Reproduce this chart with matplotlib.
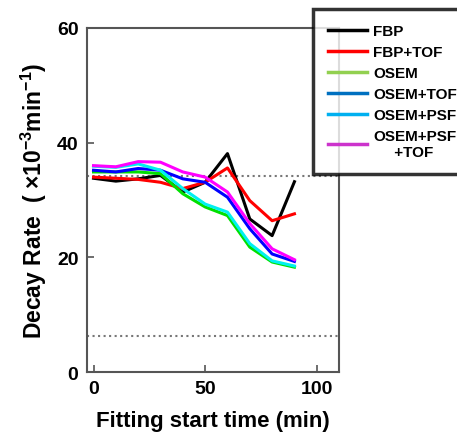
import matplotlib.pyplot as plt
from matplotlib.lines import Line2D

plt.rcParams['font.family'] = ['Liberation Sans', 'DejaVu Sans']
plt.rcParams['font.weight'] = 'bold'
plt.rcParams['mathtext.fontset'] = 'custom'
plt.rcParams['mathtext.rm'] = 'Liberation Sans:bold'
plt.rcParams['mathtext.default'] = 'rm'

start_time = [0, 10, 20, 30, 40, 50, 60, 70, 80, 90]
fbp = [33.8, 33.3, 33.7, 34.3, 31.4, 33.1, 38.1, 26.7, 23.8, 33.2]
fbp_tof = [34.0, 33.8, 33.6, 33.1, 32.0, 33.1, 35.6, 29.9, 26.4, 27.6]
osem = [34.9, 34.9, 34.9, 34.6, 31.1, 28.8, 27.3, 21.8, 19.2, 18.3]
osem_tof = [35.2, 34.9, 35.5, 35.2, 33.7, 33.1, 30.5, 25.0, 20.6, 19.3]
osem_psf = [35.9, 35.7, 36.3, 35.2, 32.0, 29.3, 27.9, 22.4, 19.4, 18.5]
osem_psf_tof = [36.0, 35.8, 36.7, 36.6, 34.9, 34.0, 31.4, 25.9, 21.5, 19.6]
ref_lines = [34.2, 6.3]

labels = ['FBP', 'FBP+TOF', 'OSEM', 'OSEM+TOF', 'OSEM+PSF', 'OSEM+PSF\n     +TOF']
series = [fbp, fbp_tof, osem, osem_tof, osem_psf, osem_psf_tof]
line_colors = ['#000000', '#ff0000', '#00e000', '#0000ff', '#00f0f0', '#ff00ff']
legend_colors = ['#000000', '#ff0000', '#92d050', '#0070c0', '#00b0f0', '#cc33cc']

fig = plt.figure(figsize=(4.57, 4.39), dpi=100)
ax = fig.add_axes([0.19, 0.150, 0.552, 0.784])

for y in ref_lines:
    ax.axhline(y, color='#777777', linestyle=':', linewidth=1.5, zorder=1)

for vals, c in zip(series, line_colors):
    ax.plot(start_time, vals, color=c, linewidth=2.2, zorder=2)

ax.set_xlim(-3, 110)
ax.set_ylim(0, 60)
ax.set_xticks([0, 50, 100])
ax.set_yticks([0, 20, 40, 60])
ax.tick_params(direction='in', length=5, width=1.2, color='#555555',
               labelsize=14, pad=6)
for lab in ax.get_xticklabels() + ax.get_yticklabels():
    lab.set_fontweight('bold')
for sp in ax.spines.values():
    sp.set_color('#555555')
    sp.set_linewidth(1.5)

ax.set_xlabel('Fitting start time (min)', fontsize=16, fontweight='bold', labelpad=9)
ax.set_ylabel('Decay Rate  ( \u00d710$^{-3}$min$^{-1}$)', fontsize=16.5,
              fontweight='bold', labelpad=6)

handles = [Line2D([0], [0], color=c, linewidth=2.5) for c in legend_colors]
leg = fig.legend(handles, labels, loc='upper left', bbox_to_anchor=(0.685, 0.977),
                 borderaxespad=0, fontsize=11, frameon=True, fancybox=False,
                 handlelength=2.5, borderpad=1.0, labelspacing=0.45,
                 handletextpad=0.45)
leg.get_frame().set_edgecolor('black')
leg.get_frame().set_linewidth(2.5)
for t in leg.get_texts():
    t.set_fontweight('bold')

fig.savefig('out.png', dpi=100)
